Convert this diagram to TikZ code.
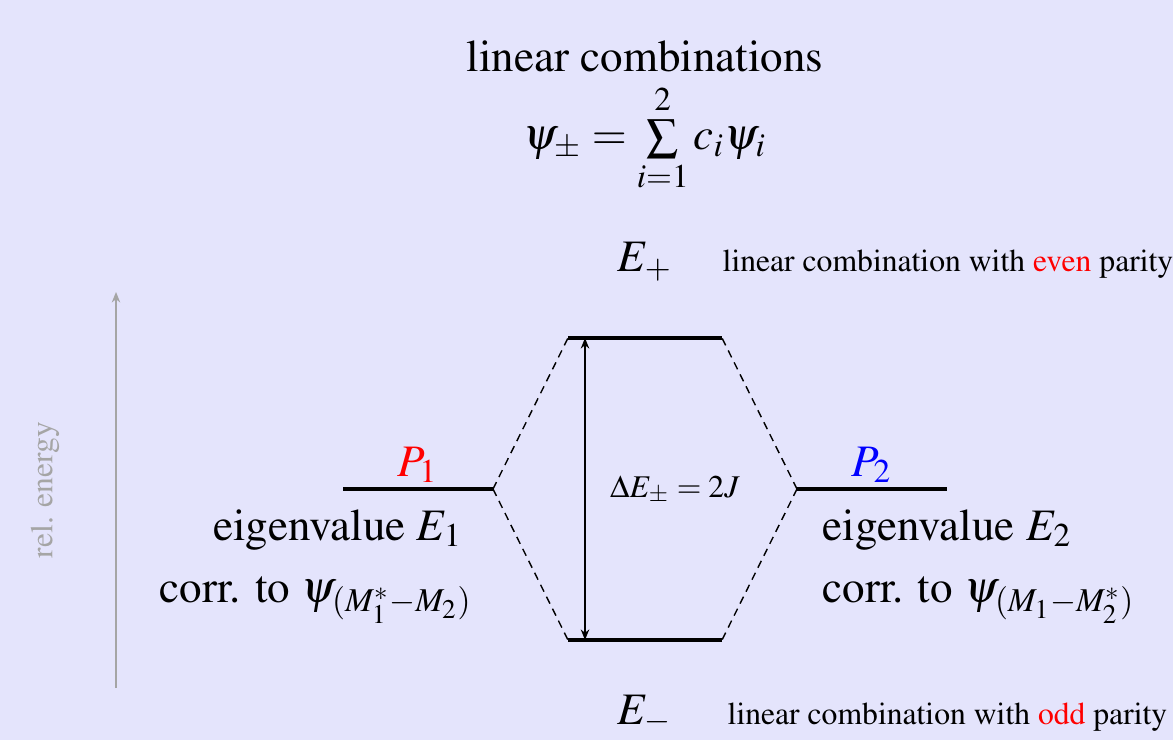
\documentclass[tikz,border=0pt]{standalone}
\usepackage[T1]{fontenc}
\usepackage{amsmath}
\usepackage{mathptmx}
\usetikzlibrary{arrows.meta}
\definecolor{lavendelhell}{RGB}{228,228,252}
\definecolor{achsgrau}{RGB}{165,165,165}

\begin{document}
\begin{tikzpicture}[x=0.01cm, y=-0.01cm,
    big/.style = {font=\fontsize{12.8}{15}\selectfont, inner sep=0pt, anchor=base},
    small/.style = {font=\fontsize{9}{11}\selectfont, inner sep=0pt, anchor=base},
    niveau/.style = {line width=1pt},
    link/.style = {line width=0.4pt, dash pattern=on 2.2pt off 1.6pt}]
        \path[fill = lavendelhell](0,0) rectangle (1173,740);
        \useasboundingbox (0,0) rectangle (1173,740);
        \coordinate(L1) at (343,489);
        \coordinate(L2) at (493,489);
        \coordinate(R1) at (797,489);
        \coordinate(R2) at (947,489);
        \coordinate(T1) at (568,338);
        \coordinate(T2) at (722,338);
        \coordinate(B1) at (568,640);
        \coordinate(B2) at (722,640);
        \coordinate(AT) at (585,338);
        \coordinate(AB) at (585,640);
        \coordinate(YA) at (116,688);
        \coordinate(YB) at (116,292);

        % title
        \node[big] (title) at (645,72) {linear combinations};
        \node[big] (formula) at (645,150) {$\psi_{\pm} = \sum\limits_{i=1}^{2} c_i\psi_i$};
        % energy axis
        \path[draw, achsgrau, line width=0.4pt, -{Stealth[length=3pt, width=2.4pt]}](YA) to (YB);
        \node[small, anchor=center, rotate=90, achsgrau] (axis) at (45,490) {rel. energy};
        % levels
        \path[draw, niveau](L1) to (L2);
        \path[draw, niveau](R1) to (R2);
        \path[draw, niveau](T1) to (T2);
        \path[draw, niveau](B1) to (B2);
        \node[big, red] (pone) at (418,476) {$P_1$};
        \node[big, blue] (ptwo) at (872,476) {$P_2$};
        % splitting
        \path[draw, link](L2) to (T1);
        \path[draw, link](L2) to (B1);
        \path[draw, link](R1) to (T2);
        \path[draw, link](R1) to (B2);
        \path[draw, line width=0.5pt, {Stealth[length=3pt, width=2.4pt]}-{Stealth[length=3pt, width=2.4pt]}](AT) to (AB);
        \node[small] (delta) at (675,497) {$\Delta E_{\pm} = 2J$};
        % eigenvalues
        \node[big] (eigone) at (338,540) {eigenvalue $E_1$};
        \node[big] (corrone) at (316,602) {corr. to $\psi_{(M_1^{*}-M_2)}$};
        \node[big, anchor=base west] (eigtwo) at (822,540) {eigenvalue $E_2$};
        \node[big, anchor=base west] (corrtwo) at (822,602) {corr. to $\psi_{(M_1-M_2^{*})}$};
        % combinations
        \node[big] (eplus) at (645,272) {$E_{+}$};
        \node[small, anchor=base west] (even) at (722,272) {linear combination with \textcolor{red}{even} parity};
        \node[big] (eminus) at (645,724) {$E_{-}$};
        \node[small, anchor=base west] (odd) at (727,724) {linear combination with \textcolor{red}{odd} parity};
\end{tikzpicture}
\end{document}
